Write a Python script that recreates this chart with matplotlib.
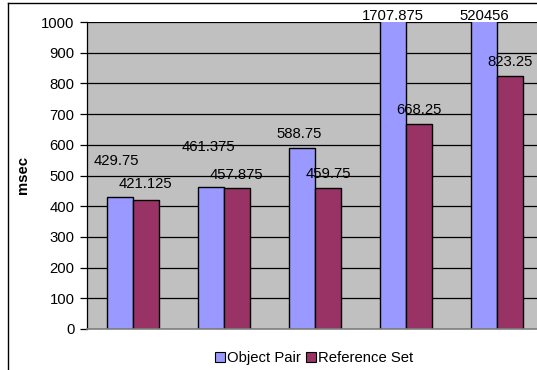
import matplotlib
matplotlib.use("Agg")
import matplotlib.pyplot as plt
import numpy as np
from matplotlib.patches import Patch
from matplotlib.lines import Line2D

plt.rcParams['font.family'] = ['Liberation Sans', 'DejaVu Sans']

categories = ["1", "2", "3", "4", "5"]
object_pair = [429.75, 461.375, 588.75, 1707.875, 520456]
reference_set = [421.125, 457.875, 459.75, 668.25, 823.25]
object_labels = ["429.75", "461.375", "588.75", "1707.875", "520456"]
reference_labels = ["421.125", "457.875", "459.75", "668.25", "823.25"]
y_ticks = [0, 100, 200, 300, 400, 500, 600, 700, 800, 900, 1000]

W, H = 537, 370
FS = 10.7
fig = plt.figure(figsize=(W / 100, H / 100), dpi=100)

# chart frame (top and left edges visible)
fig.add_artist(Line2D([8 / W, 8 / W], [0, 1 - 3 / H], color="black", lw=1.0))
fig.add_artist(Line2D([8 / W, 1], [1 - 3 / H, 1 - 3 / H], color="black", lw=1.0))

left, right, top, bottom = 87, 537, 22, 329
ax = fig.add_axes([left / W, 1 - bottom / H, (right - left) / W, (bottom - top) / H])
ax.set_facecolor("#C0C0C0")

x = np.arange(len(categories))
bw = 0.285
ax.bar(x - bw / 2, object_pair, bw, color="#9999FF", edgecolor="black", lw=1.0, zorder=3)
ax.bar(x + bw / 2, reference_set, bw, color="#993366", edgecolor="black", lw=1.0, zorder=3)

ax.set_ylim(0, 1000)
ax.set_xlim(-0.5, 4.436)
ax.set_yticks(y_ticks)
ax.set_yticklabels([str(t) for t in y_ticks], fontsize=FS)
ax.yaxis.grid(True, color="black", lw=0.9, zorder=1)
ax.set_xticks([])
ax.tick_params(axis="y", direction="out", length=5, width=0.9, pad=4)
for s in ["top", "right"]:
    ax.spines[s].set_visible(False)
ax.spines["left"].set_color("black")
ax.spines["left"].set_linewidth(0.9)
ax.spines["bottom"].set_color("#808080")
ax.spines["bottom"].set_linewidth(1.2)
ax.spines["bottom"].set_zorder(4)

ax.set_ylabel("msec", fontsize=FS, fontweight="bold")
ax.yaxis.set_label_coords((30 - left) / (right - left), 0.5)

# value labels above each bar (offset in points)
obj_offsets = [26, 29, 10, 4, 4]
ref_offsets = [11, 10, 10, 10, 10]
for i in range(len(categories)):
    yv = min(object_pair[i], 1000)
    ax.annotate(object_labels[i], (x[i] - bw / 2, yv), xytext=(-2 if i < 3 else 0, obj_offsets[i]),
                textcoords="offset points", ha="center", va="center", fontsize=FS,
                annotation_clip=False, zorder=5)
    ax.annotate(reference_labels[i], (x[i] + bw / 2, reference_set[i]), xytext=(0, ref_offsets[i]),
                textcoords="offset points", ha="center", va="center", fontsize=FS,
                annotation_clip=False, zorder=5)

handles = [Patch(facecolor="#9999FF", edgecolor="black", lw=0.8),
           Patch(facecolor="#993366", edgecolor="black", lw=0.8)]
fig.legend(handles, ["Object Pair", "Reference Set"], loc="center",
           bbox_to_anchor=(314 / W, 1 - 358 / H), ncol=2, frameon=False, fontsize=FS,
           handlelength=0.7, handleheight=0.7, handletextpad=0.15, columnspacing=0.3)

fig.savefig("out.png", dpi=100)
